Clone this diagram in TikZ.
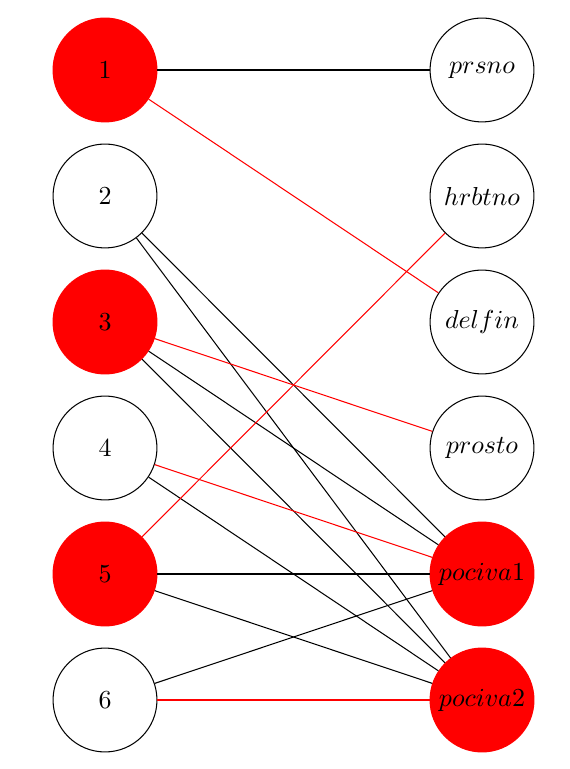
\documentclass[tikz,border=0pt]{standalone}
\begin{document}
\begin{tikzpicture}[x=0.385pt,y=-0.385pt,
  vert/.style={circle,draw=black,minimum size=40pt,inner sep=0pt},
  redvert/.style={circle,draw=red,fill=red,minimum size=40pt,inner sep=0pt},
  redge/.style={red},
  bedge/.style={black}]
\useasboundingbox (0,0) rectangle (569,769);
\node[redvert] (n1) at (105,70) {$1$};
\node[vert] (n2) at (105,196) {$2$};
\node[redvert] (n3) at (105,322) {$3$};
\node[vert] (n4) at (105,448) {$4$};
\node[redvert] (n5) at (105,574) {$5$};
\node[vert] (n6) at (105,700) {$6$};
\node[vert] (prsno) at (482,70) {$prsno$};
\node[vert] (hrbtno) at (482,196) {$hrbtno$};
\node[vert] (delfin) at (482,322) {$delfin$};
\node[vert] (prosto) at (482,448) {$prosto$};
\node[redvert] (p1) at (482,574) {$pociva1$};
\node[redvert] (p2) at (482,700) {$pociva2$};
\draw[bedge] (n1) -- (prsno);
\draw[redge] (n1) -- (delfin);
\draw[bedge] (n2) -- (p1);
\draw[bedge] (n2) -- (p2);
\draw[redge] (n3) -- (prosto);
\draw[bedge] (n3) -- (p1);
\draw[bedge] (n3) -- (p2);
\draw[redge] (n4) -- (p1);
\draw[bedge] (n4) -- (p2);
\draw[redge] (n5) -- (hrbtno);
\draw[bedge] (n5) -- (p1);
\draw[bedge] (n5) -- (p2);
\draw[bedge] (n6) -- (p1);
\draw[redge] (n6) -- (p2);
\end{tikzpicture}
\end{document}
